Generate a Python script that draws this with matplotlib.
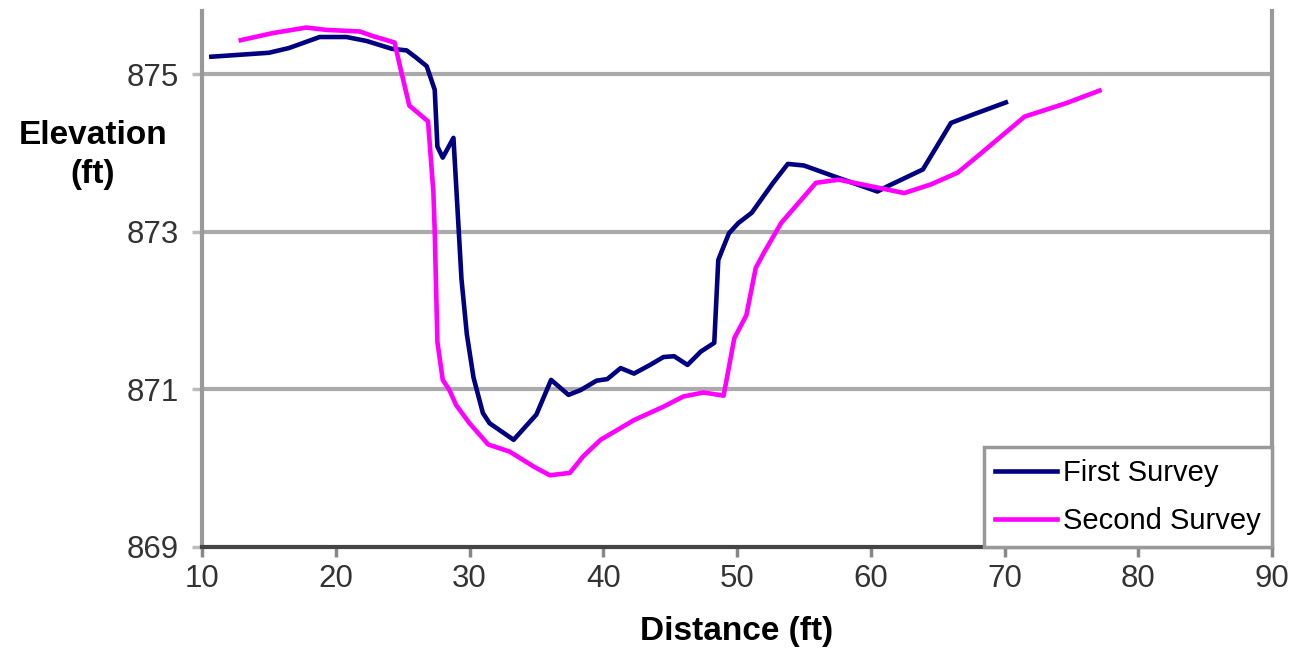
import numpy as np
import matplotlib
matplotlib.use("Agg")
import matplotlib.pyplot as plt

plt.rcParams['font.family'] = ['Liberation Sans', 'DejaVu Sans']

# Données
first_x = [10.7, 15.0, 16.5, 18.8, 20.8, 22.3, 24.2, 25.3, 26.0, 26.8, 27.4, 27.6, 28.0,
           28.8, 29.2, 29.4, 29.8, 30.3, 31.0, 31.5, 33.3, 35.0, 36.1, 37.4, 38.3, 39.5,
           40.3, 41.3, 42.3, 43.5, 44.5, 45.3, 46.3, 47.3, 48.3, 48.6, 48.9, 49.4, 50.1,
           51.1, 52.7, 53.8, 55.0, 57.3, 60.5, 61.3, 63.9, 66.0, 67.7, 70.1]
first_y = [875.22, 875.27, 875.33, 875.47, 875.47, 875.42, 875.32, 875.30, 875.21, 875.10,
           874.80, 874.08, 873.94, 874.19, 873.00, 872.40, 871.70, 871.15, 870.70, 870.57,
           870.36, 870.68, 871.12, 870.93, 870.99, 871.11, 871.13, 871.27, 871.20, 871.31,
           871.41, 871.42, 871.31, 871.48, 871.59, 872.64, 872.77, 872.98, 873.11, 873.24,
           873.62, 873.86, 873.84, 873.70, 873.51, 873.58, 873.79, 874.38, 874.49, 874.64]

second_x = [12.9, 15.3, 17.8, 19.3, 21.8, 22.8, 24.4, 24.8, 25.5, 26.9, 27.3, 27.4, 27.6,
            28.0, 28.5, 29.0, 30.0, 31.4, 33.0, 34.8, 36.0, 37.5, 38.5, 39.8, 42.3, 44.5,
            46.0, 47.5, 49.0, 49.8, 50.7, 51.4, 52.0, 53.3, 55.9, 57.6, 60.5, 62.5, 64.5,
            66.5, 68.0, 71.5, 74.6, 77.1]
second_y = [875.43, 875.52, 875.59, 875.56, 875.54, 875.48, 875.40, 875.10, 874.60, 874.40,
            873.50, 873.00, 871.60, 871.12, 870.99, 870.80, 870.57, 870.30, 870.21, 870.02,
            869.91, 869.94, 870.15, 870.36, 870.61, 870.78, 870.91, 870.96, 870.92, 871.65,
            871.94, 872.54, 872.73, 873.11, 873.62, 873.66, 873.56, 873.49, 873.60, 873.75,
            873.96, 874.46, 874.63, 874.79]

x_ticks = [10, 20, 30, 40, 50, 60, 70, 80, 90]
y_ticks = [869, 871, 873, 875]

# Figure
fig = plt.figure(figsize=(12.94, 6.5), dpi=100)
ax = fig.add_axes([202 / 1294, 1 - 547 / 650, (1272 - 202) / 1294, (547 - 11) / 650])

ax.plot(first_x, first_y, color='#000080', lw=3.3, label="First Survey", zorder=3)
ax.plot(second_x, second_y, color='#FF00FF', lw=3.3, label="Second Survey", zorder=3)

ax.set_xlim(10, 90)
ax.set_ylim(869, 875.8)
ax.set_xticks(x_ticks)
ax.set_yticks(y_ticks)

for y in y_ticks[1:]:
    ax.axhline(y, color='#aaaaaa', lw=3, zorder=1)

ax.spines['top'].set_visible(False)
ax.spines['left'].set_color('#999999')
ax.spines['left'].set_linewidth(3)
ax.spines['right'].set_color('#999999')
ax.spines['right'].set_linewidth(3)
ax.spines['bottom'].set_color('#444444')
ax.spines['bottom'].set_linewidth(3)

ax.tick_params(axis='both', labelsize=22.5, labelcolor='#333333', length=7, width=2.5)
ax.tick_params(axis='x', color='#888888', pad=5)
ax.tick_params(axis='y', color='#bbbbbb', pad=10)

ax.set_xlabel("Distance (ft)", fontsize=24, fontweight='bold', labelpad=16)
fig.text(93 / 1294, 1 - 155 / 650, "Elevation\n(ft)", fontsize=24, fontweight='bold',
         ha='center', va='center', linespacing=1.3)

leg = ax.legend(loc='lower right', bbox_to_anchor=(1, 0), borderaxespad=0,
                fontsize=21, fancybox=False, framealpha=1, handlelength=2.1,
                handletextpad=0.2, borderpad=0.4, labelspacing=0.7)
leg.get_frame().set_edgecolor('#999999')
leg.get_frame().set_linewidth(2.5)

fig.savefig("out.png", dpi=100)
